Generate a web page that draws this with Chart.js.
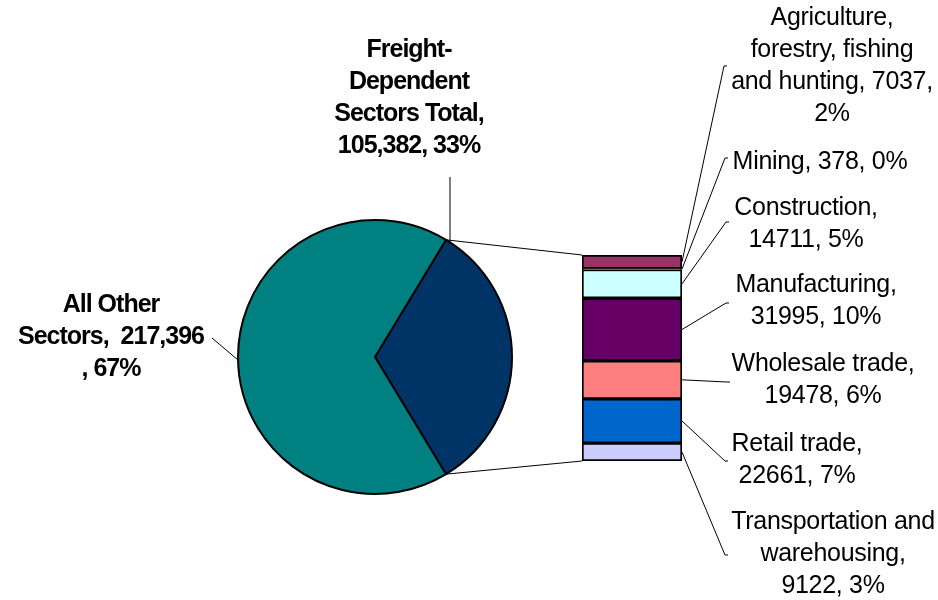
<!DOCTYPE html>
<html>
<head>
<meta charset="utf-8">
<title>Freight-Dependent Sectors</title>
<script src="https://cdn.jsdelivr.net/npm/chart.js@4.4.0/dist/chart.umd.min.js"></script>
<style>
  html, body { margin: 0; padding: 0; background: #fff; }
  #wrap { position: relative; width: 938px; height: 600px; }
  #wrap canvas { position: absolute; left: 0; top: 0; }
</style>
</head>
<body>
<div id="wrap">
  <canvas id="pie-chart" width="938" height="600"></canvas>
  <canvas id="bar-chart" width="938" height="600"></canvas>
</div>
<script>
// pie: freight-dependent sectors vs. everything else
const pieLabels = ['Freight-Dependent Sectors Total', 'All Other Sectors'];
const pieValues = [105382, 217396];
const pieColors = ['#003366', '#008080'];

// breakdown of the freight-dependent slice (top of the bar first)
const sectorLabels = ['Agriculture, forestry, fishing and hunting', 'Mining', 'Construction',
  'Manufacturing', 'Wholesale trade', 'Retail trade', 'Transportation and warehousing'];
const sectorValues = [7037, 378, 14711, 31995, 19478, 22661, 9122];
const sectorColors = ['#993366', '#FFFFCC', '#CCFFFF', '#660066', '#FF8080', '#0066CC', '#CCCCFF'];

// label wrapping, {v} = value, {p} = percent of all sectors
const pieLines = [
  ['Freight-', 'Dependent', 'Sectors Total,', '{v}, {p}'],
  ['All Other', 'Sectors,  {v}', ', {p}']
];
const sectorLines = [
  ['Agriculture,', 'forestry, fishing', 'and hunting, {v},', '{p}'],
  ['Mining, {v}, {p}'],
  ['Construction,', '{v}, {p}'],
  ['Manufacturing,', '{v}, {p}'],
  ['Wholesale trade,', '{v}, {p}'],
  ['Retail trade,', '{v}, {p}'],
  ['Transportation and', 'warehousing,', '{v}, {p}']
];

// where each label block sits and where its leader line ends
const pieLabelPos = [
  { x: 409, y: 50, from: [450, 177], to: [450, 242] },
  { x: 111, y: 305, from: [212, 338], to: [238, 360] }
];
const sectorLabelPos = [
  { x: 832, y: 18, end: [724, 66] },
  { x: 820, y: 162, end: [725, 158] },
  { x: 806, y: 208, end: [726, 222] },
  { x: 816, y: 285, end: [726, 303] },
  { x: 823, y: 364, end: [727, 382] },
  { x: 797, y: 444, end: [725, 461] },
  { x: 833, y: 522, end: [725, 555] }
];

const total = pieValues.reduce((a, b) => a + b, 0);
const freightTotal = sectorValues.reduce((a, b) => a + b, 0);
const pct = v => Math.round(v / total * 100) + '%';

function fillLines(lines, v, useCommas) {
  const vs = useCommas ? v.toLocaleString('en-US') : String(v);
  return lines.map(l => l.replace('{v}', vs).replace('{p}', pct(v)));
}

// freight slice centred on the right-hand side of the pie
const rotation = 90 - (pieValues[0] / total) * 180;

const pieChart = new Chart(document.getElementById('pie-chart'), {
  type: 'pie',
  data: {
    labels: pieLabels,
    datasets: [{
      data: pieValues,
      backgroundColor: pieColors,
      borderColor: '#000',
      borderWidth: 2,
      radius: 137
    }]
  },
  options: {
    responsive: false,
    animation: false,
    devicePixelRatio: 1,
    rotation: rotation,
    layout: { padding: { left: 225, right: 413, top: 207, bottom: 93 } },
    plugins: { legend: { display: false }, tooltip: { enabled: false } }
  }
});

function line(ctx, x1, y1, x2, y2) {
  ctx.beginPath();
  ctx.moveTo(x1, y1);
  ctx.lineTo(x2, y2);
  ctx.stroke();
}

function drawBlock(ctx, lines, x, y, lh) {
  lines.forEach((t, i) => ctx.fillText(t, x, y + i * lh));
}

const callouts = {
  id: 'callouts',
  afterDraw(chart) {
    const ctx = chart.ctx;
    const area = chart.chartArea;
    const arc = pieChart.getDatasetMeta(0).data[0];
    const { x: cx, y: cy, startAngle, endAngle, outerRadius } =
      arc.getProps(['x', 'y', 'startAngle', 'endAngle', 'outerRadius']);

    ctx.save();
    ctx.strokeStyle = '#000';
    ctx.lineWidth = 1;

    // pie slice edges to the bar corners
    line(ctx, cx + outerRadius * Math.cos(startAngle), cy + outerRadius * Math.sin(startAngle), area.left, area.top);
    line(ctx, cx + outerRadius * Math.cos(endAngle), cy + outerRadius * Math.sin(endAngle), area.left, area.bottom);

    // pie labels
    ctx.fillStyle = '#000';
    ctx.textAlign = 'center';
    ctx.textBaseline = 'middle';
    ctx.font = 'bold 25px "Liberation Sans", Arial, sans-serif';
    ctx.letterSpacing = '-1px';
    pieLabelPos.forEach((p, i) => {
      line(ctx, p.from[0], p.from[1], p.to[0], p.to[1]);
      drawBlock(ctx, fillLines(pieLines[i], pieValues[i], true), p.x, p.y, 32);
    });

    // sector labels with leaders from each bar segment
    ctx.font = '25px "Liberation Sans", Arial, sans-serif';
    ctx.letterSpacing = '-0.3px';
    const n = sectorValues.length;
    sectorValues.forEach((v, i) => {
      const meta = chart.getDatasetMeta(n - 1 - i);
      const bar = meta.data[0].getProps(['x', 'y', 'base', 'width']);
      const right = bar.x + bar.width / 2;
      const midY = (bar.y + bar.base) / 2;
      const p = sectorLabelPos[i];
      ctx.beginPath();
      ctx.moveTo(right, midY);
      ctx.lineTo(p.end[0], p.end[1]);
      ctx.lineTo(p.end[0] + 3, p.end[1]);
      ctx.stroke();
      drawBlock(ctx, fillLines(sectorLines[i], v, false), p.x, p.y, 32);
    });
    ctx.restore();
  }
};

// stacked from the bottom, so feed the segments in reverse
const barDatasets = sectorValues.map((v, i) => ({
  label: sectorLabels[i],
  data: [v],
  backgroundColor: sectorColors[i],
  borderColor: '#000',
  borderWidth: 2,
  borderSkipped: false,
  barPercentage: 1,
  categoryPercentage: 1
})).reverse();

new Chart(document.getElementById('bar-chart'), {
  type: 'bar',
  data: { labels: ['Freight-Dependent Sectors'], datasets: barDatasets },
  options: {
    responsive: false,
    animation: false,
    devicePixelRatio: 1,
    layout: { padding: { left: 582, right: 256, top: 255, bottom: 139 } },
    scales: {
      x: { stacked: true, display: false },
      y: { stacked: true, display: false, min: 0, max: freightTotal }
    },
    plugins: { legend: { display: false }, tooltip: { enabled: false } }
  },
  plugins: [callouts]
});
</script>
</body>
</html>
